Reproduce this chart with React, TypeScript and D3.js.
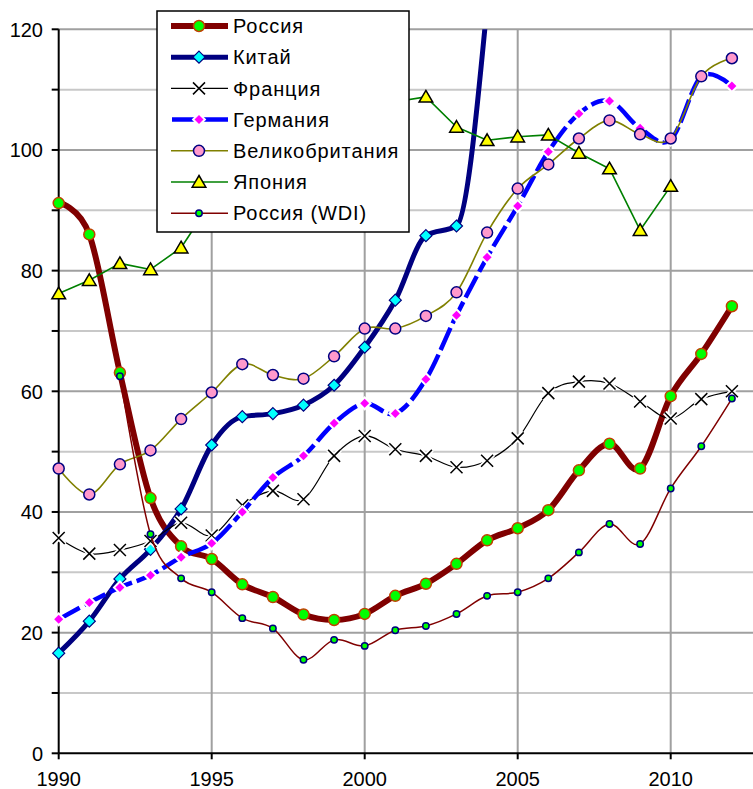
import React from 'react';
import * as d3 from 'd3';

// years on the x axis
const years = [1990, 1991, 1992, 1993, 1994, 1995, 1996, 1997, 1998, 1999, 2000, 2001,
  2002, 2003, 2004, 2005, 2006, 2007, 2008, 2009, 2010, 2011, 2012];

const russia = [91.2, 86.0, 63.1, 42.3, 34.3, 32.2, 28.0, 25.9, 23.0, 22.1, 23.1, 26.1,
  28.1, 31.4, 35.3, 37.3, 40.3, 46.9, 51.3, 47.2, 59.2, 66.2, 74.1];
const china = [16.6, 21.9, 28.9, 33.8, 40.5, 51.1, 55.8, 56.3, 57.7, 61.0, 67.3, 75.1,
  85.8, 87.4, 124, null, null, null, null, null, null, null, null];
const france = [35.7, 33.1, 33.7, 35.2, 38.2, 36.1, 41.1, 43.5, 42.1, 49.3, 52.6, 50.4,
  49.3, 47.4, 48.5, 52.2, 59.7, 61.6, 61.3, 58.3, 55.5, 58.7, 60.0];
const germany = [22.2, 25.0, 27.5, 29.5, 32.5, 34.8, 40.0, 45.7, 49.3, 54.7, 58.0, 56.3,
  62.0, 72.6, 82.2, 90.7, 99.7, 106.0, 108.1, 103.6, 101.7, 112.2, 110.6];
const uk = [47.2, 42.9, 47.9, 50.2, 55.4, 59.8, 64.5, 62.7, 62.1, 65.8, 70.4, 70.4,
  72.5, 76.4, 86.3, 93.6, 97.6, 101.9, 104.9, 102.6, 101.9, 112.2, 115.2];
const japan = [76.2, 78.4, 81.2, 80.2, 83.8, 91.5, 95, 99, 100, 102, 105, 108,
  108.8, 103.8, 101.6, 102.2, 102.5, 99.5, 96.9, 86.7, 94.0, null, null];
const russiaWdi = [null, null, 62.5, 36.3, 29.0, 26.7, 22.4, 20.7, 15.5, 18.8, 17.8, 20.4,
  21.1, 23.1, 26.1, 26.7, 29.0, 33.3, 38.0, 34.7, 43.9, 50.9, 58.8];

const seriesNames = ['Россия', 'Китай', 'Франция', 'Германия', 'Великобритания', 'Япония', 'Россия (WDI)'];
const yTickLabels = [0, 20, 40, 60, 80, 100, 120];
const yMinorTicks = [10, 30, 50, 70, 90, 110];
const xTickLabels = [1990, 1995, 2000, 2005, 2010];

type Marker = 'circle' | 'diamond' | 'x' | 'triangle';
type Curve = 'smooth' | 'monotone' | 'linear';

interface SeriesStyle {
  values: (number | null)[];
  color: string;
  width: number;
  dash?: string;
  curve: Curve;
  marker: Marker;
  size: number;
  fill: string;
  edge: string;
  edgeWidth: number;
  halo?: boolean;
}

const styles: SeriesStyle[] = [
  { values: russia, color: '#800000', width: 6, curve: 'smooth', marker: 'circle', size: 5.5, fill: '#00ff00', edge: '#c04000', edgeWidth: 1.5 },
  { values: china, color: '#000080', width: 5, curve: 'monotone', marker: 'diamond', size: 6, fill: '#00ffff', edge: '#000080', edgeWidth: 1.2 },
  { values: france, color: '#000000', width: 1.2, curve: 'smooth', marker: 'x', size: 6, fill: 'none', edge: '#000000', edgeWidth: 1.5, halo: true },
  { values: germany, color: '#0000ff', width: 4.5, dash: '24 5', curve: 'smooth', marker: 'diamond', size: 4.5, fill: '#ff00ff', edge: 'none', edgeWidth: 0, halo: true },
  { values: uk, color: '#808000', width: 1.6, curve: 'smooth', marker: 'circle', size: 5.5, fill: '#ff99cc', edge: '#000080', edgeWidth: 1.5 },
  { values: japan, color: '#008000', width: 1.6, curve: 'linear', marker: 'triangle', size: 6.5, fill: '#ffff00', edge: '#000000', edgeWidth: 1.5 },
  { values: russiaWdi, color: '#800000', width: 1.5, curve: 'smooth', marker: 'circle', size: 3.2, fill: '#00ff00', edge: '#000080', edgeWidth: 1.5 },
];

const W = 753;
const H = 789;
const x = d3.scaleLinear().domain([1990, 2010]).range([58.7, 670.7]);
const y = d3.scaleLinear().domain([0, 120]).range([753.3, 29.3]);

const curves = {
  smooth: d3.curveCatmullRom.alpha(0),
  monotone: d3.curveMonotoneX,
  linear: d3.curveLinear,
};

function markerPath(m: Marker, s: number): string {
  if (m === 'diamond') return `M0,${-s}L${s},0L0,${s}L${-s},0Z`;
  if (m === 'x') return `M${-s},${-s}L${s},${s}M${s},${-s}L${-s},${s}`;
  if (m === 'triangle') return `M0,${-s}L${s * 1.05},${s * 0.8}L${-s * 1.05},${s * 0.8}Z`;
  return '';
}

function MarkerShape({ st, cx, cy }: { st: SeriesStyle; cx: number; cy: number }) {
  if (st.marker === 'circle') {
    return <circle cx={cx} cy={cy} r={st.size} fill={st.fill} stroke={st.edge} strokeWidth={st.edgeWidth} />;
  }
  const d = markerPath(st.marker, st.size);
  return (
    <g transform={`translate(${cx},${cy})`}>
      {st.halo && <path d={d} fill={st.marker === 'x' ? 'none' : '#fff'} stroke="#fff" strokeWidth={st.marker === 'x' ? 5 : 4} />}
      <path d={d} fill={st.fill} stroke={st.edge} strokeWidth={st.edgeWidth} />
    </g>
  );
}

export default function App() {
  const plotLeft = x(1990);
  const plotTop = y(120);
  const plotBottom = y(0);

  const legendX = 157;
  const legendY = 11;
  const legendRow = 31.2;

  return (
    <svg width={W} height={H} style={{ position: 'absolute', left: 0, top: 0, background: '#fff' }}
      fontFamily="'Liberation Sans', Arial, sans-serif">
      <defs>
        <clipPath id="plot">
          <rect x={plotLeft} y={plotTop} width={W - plotLeft} height={plotBottom - plotTop} />
        </clipPath>
      </defs>

      {/* grid */}
      {yMinorTicks.map(v => (
        <line key={'mn' + v} x1={plotLeft} x2={W} y1={y(v)} y2={y(v)} stroke="#c8c8c8" strokeWidth={2} />
      ))}
      {yTickLabels.filter(v => v > 0).map(v => (
        <line key={'mj' + v} x1={plotLeft} x2={W} y1={y(v)} y2={y(v)} stroke="#a0a0a0" strokeWidth={2} />
      ))}
      {xTickLabels.filter(v => v > 1990).map(v => (
        <line key={'vx' + v} x1={x(v)} x2={x(v)} y1={plotTop} y2={plotBottom} stroke="#a0a0a0" strokeWidth={2} />
      ))}

      {/* axes */}
      <line x1={plotLeft} x2={plotLeft} y1={plotTop} y2={plotBottom} stroke="#000" strokeWidth={2} />
      <line x1={plotLeft} x2={W} y1={plotBottom} y2={plotBottom} stroke="#000" strokeWidth={2} />
      {[...yTickLabels, ...yMinorTicks].map(v => (
        <line key={'yt' + v} x1={plotLeft - 7} x2={plotLeft} y1={y(v)} y2={y(v)} stroke="#000" strokeWidth={2} />
      ))}
      {yTickLabels.map(v => (
        <text key={'yl' + v} x={43} y={y(v)} dy="0.36em" textAnchor="end" fontSize={20} fill="#000">{v}</text>
      ))}
      {xTickLabels.map(v => (
        <line key={'xt' + v} x1={x(v)} x2={x(v)} y1={plotBottom} y2={plotBottom + 6} stroke="#000" strokeWidth={2} />
      ))}
      {xTickLabels.map(v => (
        <text key={'xl' + v} x={x(v)} y={786} textAnchor="middle" fontSize={20} fill="#000">{v}</text>
      ))}

      {/* series */}
      {styles.map((st, i) => {
        const pts = years.map((yr, k) => ({ yr, v: st.values[k] }));
        const line = d3.line<{ yr: number; v: number | null }>()
          .defined(d => d.v != null)
          .x(d => x(d.yr))
          .y(d => y(d.v as number))
          .curve(curves[st.curve]);
        return (
          <g key={i}>
            <path d={line(pts) || ''} fill="none" stroke={st.color} strokeWidth={st.width}
              strokeDasharray={st.dash} strokeLinejoin="round" clipPath="url(#plot)" />
            {pts.filter(p => p.v != null && p.v <= 120).map(p => (
              <MarkerShape key={p.yr} st={st} cx={x(p.yr)} cy={y(p.v as number)} />
            ))}
          </g>
        );
      })}

      {/* legend */}
      <rect x={legendX} y={legendY} width={252} height={221} fill="#fff" stroke="#000" strokeWidth={1.5} />
      {styles.map((st, i) => {
        const cy = legendY + 15 + i * legendRow;
        return (
          <g key={'lg' + i}>
            <line x1={171} x2={228} y1={cy} y2={cy} stroke={st.color} strokeWidth={st.width}
              strokeDasharray={st.dash ? '26 4' : undefined} strokeDashoffset={st.dash ? -1 : undefined} />
            <MarkerShape st={st} cx={199} cy={cy} />
            <text x={233} y={cy} dy="0.36em" fontSize={20} fill="#000" letterSpacing={0.9}>{seriesNames[i]}</text>
          </g>
        );
      })}
    </svg>
  );
}
